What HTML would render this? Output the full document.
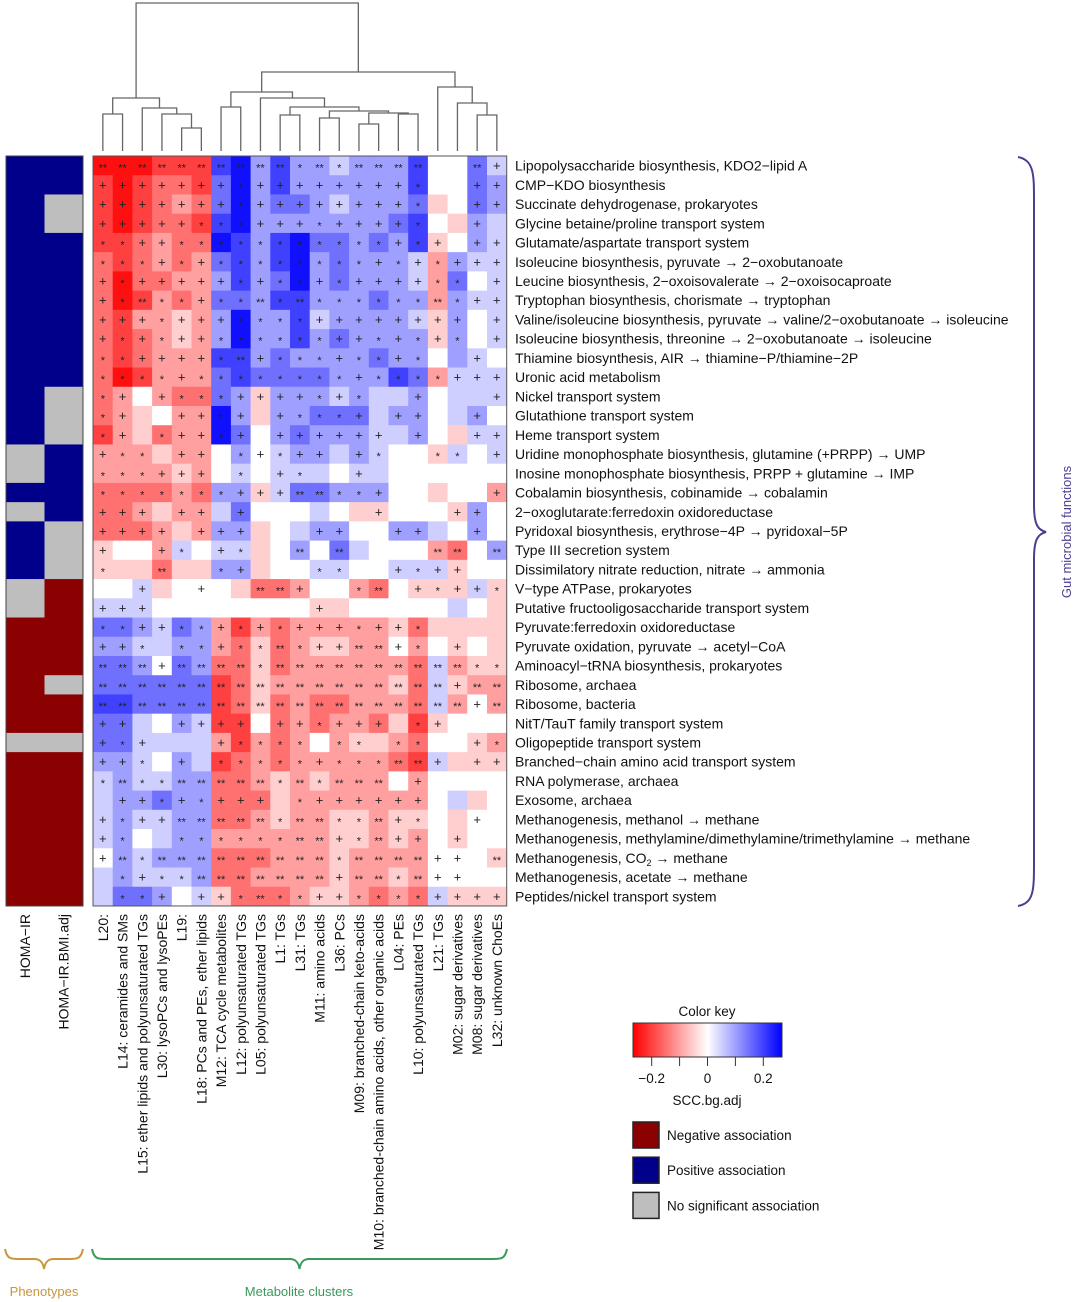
<!DOCTYPE html>
<html><head><meta charset="utf-8">
<style>
html,body{margin:0;padding:0;background:#fff;}
svg{display:block;font-family:"Liberation Sans",Arial,sans-serif;}
</style></head>
<body>
<svg id="chart" width="1080" height="1302" viewBox="0 0 1080 1302" xmlns="http://www.w3.org/2000/svg"></svg>
<script>
// ---- data ----
const columns = ["L20:","L14: ceramides and SMs","L15: ether lipids and polyunsaturated TGs","L30: lysoPCs and lysoPEs","L19:","L18: PCs and PEs, ether lipids","M12: TCA cycle metabolites","L12: polyunsaturated TGs","L05: polyunsaturated TGs","L1: TGs","L31: TGs","M11: amino acids","L36: PCs","M09: branched-chain keto-acids","M10: branched-chain amino acids, other organic acids","L04: PEs","L10: polyunsaturated TGs","L21: TGs","M02: sugar derivatives","M08: sugar derivatives","L32: unknown ChoEs"];
const rows = ["Lipopolysaccharide biosynthesis, KDO2\u2212lipid A","CMP\u2212KDO biosynthesis","Succinate dehydrogenase, prokaryotes","Glycine betaine/proline transport system","Glutamate/aspartate transport system","Isoleucine biosynthesis, pyruvate \u2192 2\u2212oxobutanoate","Leucine biosynthesis, 2\u2212oxoisovalerate \u2192 2\u2212oxoisocaproate","Tryptophan biosynthesis, chorismate \u2192 tryptophan","Valine/isoleucine biosynthesis, pyruvate \u2192 valine/2\u2212oxobutanoate \u2192 isoleucine","Isoleucine biosynthesis, threonine \u2192 2\u2212oxobutanoate \u2192 isoleucine","Thiamine biosynthesis, AIR \u2192 thiamine\u2212P/thiamine\u22122P","Uronic acid metabolism","Nickel transport system","Glutathione transport system","Heme transport system","Uridine monophosphate biosynthesis, glutamine (+PRPP) \u2192 UMP","Inosine monophosphate biosynthesis, PRPP + glutamine \u2192 IMP","Cobalamin biosynthesis, cobinamide \u2192 cobalamin","2\u2212oxoglutarate:ferredoxin oxidoreductase","Pyridoxal biosynthesis, erythrose\u22124P \u2192 pyridoxal\u22125P","Type III secretion system","Dissimilatory nitrate reduction, nitrate \u2192 ammonia","V\u2212type ATPase, prokaryotes","Putative fructooligosaccharide transport system","Pyruvate:ferredoxin oxidoreductase","Pyruvate oxidation, pyruvate \u2192 acetyl\u2212CoA","Aminoacyl\u2212tRNA biosynthesis, prokaryotes","Ribosome, archaea","Ribosome, bacteria","NitT/TauT family transport system","Oligopeptide transport system","Branched\u2212chain amino acid transport system","RNA polymerase, archaea","Exosome, archaea","Methanogenesis, methanol \u2192 methane","Methanogenesis, methylamine/dimethylamine/trimethylamine \u2192 methane","Methanogenesis, CO2 \u2192 methane","Methanogenesis, acetate \u2192 methane","Peptides/nickel transport system"];
// SCC values in units of 0.05 (negative = red, positive = blue)
const values = [
[-5,-5,-5,-4,-4,-4, 4,5,2,4,2,2,1,2,2,2,4, 0,0,3,1],
[-4,-5,-4,-3,-3,-4, 3,5,2,4,2,2,2,2,2,2,4, 0,0,3,2],
[-4,-5,-4,-3,-2,-3, 3,5,2,3,3,2,1,2,2,2,3, -1,0,3,2],
[-4,-5,-4,-3,-3,-4, 4,5,2,2,2,2,2,2,2,3,4, 0,-1,2,1],
[-4,-4,-3,-2,-3,-3, 5,4,2,4,5,3,3,2,3,2,4, -1,0,2,1],
[-3,-4,-3,-2,-3,-2, 3,4,2,4,5,2,3,2,2,2,1, -2,2,1,1],
[-3,-5,-3,-3,-2,-2, 2,4,2,3,5,2,3,2,2,2,1, -2,3,0,1],
[-3,-5,-4,-2,-3,-2, 3,3,2,4,4,2,2,2,3,2,2, -2,2,1,1],
[-3,-4,-2,-2,-1,-2, 2,5,2,2,4,1,2,2,2,2,1, -1,2,0,1],
[-3,-4,-3,-2,-1,-2, 2,5,2,2,4,2,3,2,2,2,2, -1,2,0,1],
[-3,-4,-3,-2,-2,-2, 4,4,2,3,2,2,2,2,3,2,2, 0,2,1,0],
[-3,-5,-4,-2,-2,-2, 3,4,3,3,3,3,2,2,2,4,3, -2,1,1,1],
[-3,-2,0,-2,-3,-3, 3,2,-1,2,2,2,1,2,1,1,2, 0,1,1,1],
[-3,-2,-1,0,-2,-2, 5,2,-1,2,2,3,3,3,1,2,2, 0,1,2,0],
[-4,-2,-1,-3,-2,-2, 5,3,0,2,3,2,2,2,1,1,2, 0,-1,1,1],
[-2,-2,-2,-1,-2,-2, 0,2,0,1,2,2,1,2,1,0,0, -1,1,0,1],
[-2,-2,-2,-2,-1,-2, 0,1,0,1,1,1,0,1,1,0,0, 0,0,0,0],
[-3,-3,-3,-3,-2,-3, 2,2,-1,1,3,3,2,2,2,0,0, -1,0,0,-2],
[-3,-3,-2,-1,-2,-2, 1,3,0,0,0,1,0,-1,-1,0,0, 0,-1,2,0],
[-3,-3,-3,-2,-1,-2, 2,2,-1,0,1,2,2,0,0,2,2, 1,0,2,0],
[-1,0,0,-2,1,0, 1,1,-1,0,2,0,3,1,0,0,0, -2,-3,0,2],
[-1,-1,-1,-3,-1,-1, 2,2,-1,0,0,1,1,0,0,1,1, 1,-1,0,0],
[0,0,1,-1,0,0, 0,-1,-3,-3,-2,0,0,-2,-3,0,-1, -1,-1,1,-1],
[1,1,1,0,0,0, 0,0,0,0,0,-1,-1,0,0,0,0, 0,1,0,-1],
[3,3,2,1,3,2, -2,-4,-2,-3,-2,-2,-2,-2,-2,-1,-3, -1,-1,-1,-1],
[2,2,1,1,2,2, -2,-3,-1,-3,-2,-1,-1,-2,-2,0,-2, 0,-1,0,-1],
[3,3,2,0,3,2, -3,-3,-1,-3,-2,-2,-2,-2,-2,-2,-3, 1,-2,-1,-1],
[3,3,3,3,3,3, -4,-3,-1,-2,-2,-2,-2,-2,-2,-1,-3, 1,-1,-2,-2],
[4,4,3,3,3,3, -4,-3,-1,-3,-2,-3,-3,-2,-2,-2,-3, 1,-2,0,-2],
[3,3,1,0,2,1, -4,-4,0,-3,-2,-3,-2,-2,-3,-1,-4, -1,0,0,0],
[3,3,1,1,1,1, -2,-4,-2,-3,-2,0,-2,-1,-1,-2,-3, 0,0,-1,-2],
[2,2,1,0,2,1, -4,-3,-2,-3,-2,-2,-2,-2,-2,-3,-4, 1,-1,-1,-1],
[1,2,1,1,2,2, -3,-3,-2,-1,-2,-1,-2,-2,-2,0,-2, 0,0,0,0],
[1,2,2,3,2,2, -3,-3,-3,-1,-2,-2,-2,-2,-2,-2,-2, 0,1,-1,0],
[1,2,1,1,2,2, -3,-3,-2,-1,-2,-2,-1,-1,-2,-1,-1, 0,-1,0,0],
[1,2,0,1,2,2, -2,-2,-2,-2,-2,-2,-1,-1,-2,-1,-2, 0,-1,0,0],
[0,2,1,2,2,2, -3,-3,-3,-2,-2,-2,-1,-2,-2,-2,-2, 0,0,0,-1],
[1,2,1,1,1,2, -3,-3,-2,-2,-2,-2,-1,-2,-2,-1,-2, 0,0,0,0],
[1,3,3,2,0,1, -1,-3,-3,-3,-2,-1,-1,-2,-3,-2,-3, 1,-1,-1,-1]
];
// significance marks: 2 = **, * = *, + = +, . = none
const marks = [
"222222"+"2222*2*2222"+"..2+",
"++++++"+"+*++++++++*"+"..++",
"++++++"+"+*++++++++*"+"..++",
"+++++*"+"**+++*++++*"+"..+.",
"**++**"+"*********+*"+"+.++",
"***+*+"+"********+*+"+"*+++",
"+*++++"+"+*+**+*++++"+"**.+",
"+*2**+"+"**2*2******"+"2*++",
"+++*++"+"+****++++++"+"++.+",
"+*+*++"+"******++*+*"+"+*.+",
"**++++"+"*2+***+**+*"+"..+.",
"****+*"+"*******+***"+"*+++",
"*+.+**"+"*++++*+*..+"+"...+",
"*+..++"+"*+.+***+.++"+"..+.",
"*+.*++"+"*+.++++++.+"+"..++",
"+**.++"+".*+*++.+*.."+"**.+",
"***+++"+".*.+*..+..."+"....",
"******"+"*+++22**+.."+"...+",
"+++.++"+".+......+.."+".++.",
"++++.+"+"++...++..++"+"..+.",
"+..+*."+"+*..2.2...."+"22.2",
"*..2.."+"*+...**..+*"+"++..",
"..+..+"+"..22+..*2.+"+"*++*",
"+++..."+".....+....."+"....",
"**++**"+"+*+*+++*++*"+"....",
"++*.**"+"+**2*++22+*"+".+..",
"222+22"+"22*22222222"+"22**",
"222222"+"22222222222"+"2+22",
"222222"+"22222222222"+"22+2",
"++..++"+"++.++*+++.*"+"+...",
"+*+..."+"+****.**.**"+"..+*",
"++*.+."+"*****+***22"+"+.++",
"*2**22"+"222*2*222.+"+"....",
".++*+*"+"+++.*++++++"+"....",
"+*++22"+"222*22**2+*"+"..+.",
"+*..**"+"****22+*2++"+".+..",
"+2*222"+"222222*2222"+"++.2",
".*+**2"+"222222+22*2"+"++..",
".**+.+"+"+*2**++****"+"++++"
];
// phenotype association: N = negative, P = positive, G = none
const homaIR    = "PPPPPPPPPPPPPPPGGPGPPPGGNNNNNNGNNNNNNNN";
const homaIRbmi = "PPGGPPPPPPPPGGGPPPPGGGNNNNNGNNGNNNNNNNN";
// dendrogram merges: [leftNode, rightNode, height]; leaves 0..20, new nodes 21..
const merges = [
[0,1,114],[4,5,128],[3,22,114],[2,23,108],[21,24,98],
[6,7,107],[9,10,115],[11,12,118],[13,14,124],[15,16,114],[29,30,113],[28,31,111],[27,32,107],[8,33,98],[26,34,92],
[19,20,115],[18,36,103],[17,37,87],[35,38,72],[25,39,3]
];
const keyTicks = [-0.2,-0.1,0,0.1,0.2];
const keyTickLabels = ["\u22120.2","","0","","0.2"];
const legendLabels = ["Negative association","Positive association","No significant association"];
const legendColors = ["#8b0000","#00008b","#bebebe"];

// ---- layout ----
const NS="http://www.w3.org/2000/svg";
const svg=document.getElementById('chart');
const X0=93, CW=19.7, Y0=156, RH=19.23, VMAX=0.267;
const nC=columns.length, nR=rows.length;
function xCol(i){return X0+i*CW;}
function yRow(j){return Y0+j*RH;}
function el(tag,attrs,parent){const e=document.createElementNS(NS,tag);for(const k in attrs)e.setAttribute(k,attrs[k]);(parent||svg).appendChild(e);return e;}
function color(v){let t=Math.max(-1,Math.min(1,v*0.05/VMAX));let r,g,b;
 if(t<0){r=255;g=b=Math.round(255*(1+t));}else{b=255;r=g=Math.round(255*(1-t));}
 return `rgb(${r},${g},${b})`;}

// heatmap cells
const hm=el('g',{});


for(let j=0;j<nR;j++){for(let i=0;i<nC;i++){
 const r=el('rect',{x:xCol(i),y:yRow(j),width:CW+0.4,height:RH+0.4,fill:color(values[j][i])},hm);
 
 
 const m=marks[j][i];
 if(m!=='.'){
  const s=m==='2'?'**':(m==='*'?'*':'+');
  const t=el('text',{x:xCol(i)+CW/2,y:yRow(j)+RH/2+(m==='+'?4.5:6),'text-anchor':'middle','font-size':m==='+'?13:11,fill:'#222'},hm);
  t.textContent=s;
  
  
 }
}}
const border=el('rect',{x:X0,y:Y0,width:nC*CW,height:nR*RH,fill:'none',stroke:'#555','stroke-width':1});



// phenotype bars
const pcol={N:'#8b0000',P:'#00008b',G:'#bebebe'};
const ph=el('g',{});


[homaIR,homaIRbmi].forEach((str,k)=>{for(let j=0;j<nR;j++){
 const r=el('rect',{x:6+k*38.5,y:yRow(j),width:38.8,height:RH+0.4,fill:pcol[str[j]]},ph);
 
 
}});
const pb=el('rect',{x:6,y:Y0,width:77,height:nR*RH,fill:'none',stroke:'#444','stroke-width':1});



// row labels
for(let j=0;j<nR;j++){
 const t=el('text',{x:515,y:yRow(j)+RH/2+5,'font-size':14,fill:'#111'});
 const lab=rows[j];
 if(lab.indexOf('CO2')>=0){
  const parts=lab.split('CO2');
  t.appendChild(document.createTextNode(parts[0]+'CO'));
  const sub=el('tspan',{'font-size':9,dy:3},t);sub.textContent='2';
  const rest=el('tspan',{dy:-3},t);rest.textContent=parts[1];
 } else t.textContent=lab;
 
 
}
// column labels
for(let i=0;i<nC;i++){
 const cx=xCol(i)+CW/2+5;
 const t=el('text',{x:cx,y:914,'font-size':14,fill:'#111','text-anchor':'end',transform:`rotate(-90 ${cx} 914)`});
 t.textContent=columns[i];
 
 
}
['HOMA\u2212IR','HOMA\u2212IR.BMI.adj'].forEach((s,k)=>{
 const cx=25+k*38.5+5;
 const t=el('text',{x:cx,y:914,'font-size':14,fill:'#111','text-anchor':'end',transform:`rotate(-90 ${cx} 914)`});
 t.textContent=s;
 
 
});

// dendrogram
const dg=el('g',{stroke:'#666','stroke-width':1.3,fill:'none'});


const nodeX=[],nodeY=[];
for(let i=0;i<nC;i++){nodeX.push(xCol(i)+CW/2);nodeY.push(151);}
merges.forEach(m=>{
 const [a,b,h]=m;
 const p=el('path',{d:`M${nodeX[a]},${nodeY[a]}V${h}H${nodeX[b]}V${nodeY[b]}`},dg);
 
 
 nodeX.push((nodeX[a]+nodeX[b])/2);nodeY.push(h);
});

// right brace
const rb=el('path',{d:'M1018,157 C1034,160 1034,175 1034,200 L1034,505 C1034,525 1038,530 1046,532 C1038,534 1034,539 1034,559 L1034,862 C1034,890 1034,903 1018,906',fill:'none',stroke:'#4a3f8f','stroke-width':2});


const rbt=el('text',{x:1071,y:532,'font-size':13,fill:'#4a3f8f','text-anchor':'middle',transform:'rotate(-90 1071 532)'});
rbt.textContent='Gut microbial functions';



// bottom braces
function hbrace(x1,x2,y,col,name){
 const m=(x1+x2)/2;
 const p=el('path',{d:`M${x1},${y} C${x1+2},${y+10} ${x1+6},${y+10} ${x1+14},${y+10} L${m-10},${y+10} C${m-4},${y+10} ${m-1},${y+13} ${m},${y+20} C${m+1},${y+13} ${m+4},${y+10} ${m+10},${y+10} L${x2-14},${y+10} C${x2-6},${y+10} ${x2-2},${y+10} ${x2},${y}`,fill:'none',stroke:col,'stroke-width':2});
 
 
}
hbrace(5,83,1249,'#c8963c','phenotypes-brace');
hbrace(92,507,1249,'#3a9a5c','metabolite-clusters-brace');
const pt=el('text',{x:44,y:1296,'font-size':13,fill:'#c8963c','text-anchor':'middle'});
pt.textContent='Phenotypes';


const mt=el('text',{x:299,y:1296,'font-size':13,fill:'#3a9a5c','text-anchor':'middle'});
mt.textContent='Metabolite clusters';



// color key
const defs=el('defs',{});
const lg=el('linearGradient',{id:'ck',x1:0,x2:1,y1:0,y2:0},defs);
el('stop',{offset:'0',['stop-color']:'#ff0000'},lg);
el('stop',{offset:'0.5',['stop-color']:'#ffffff'},lg);
el('stop',{offset:'1',['stop-color']:'#0000ff'},lg);
const KX=633,KW=149,KY=1023,KH=34;
function keyX(v){return KX+(v+VMAX)/(2*VMAX)*KW;}
const ck=el('rect',{x:KX,y:KY,width:KW,height:KH,fill:'url(#ck)',stroke:'#333','stroke-width':1});


const ckt=el('text',{x:707,y:1016,'font-size':13.5,fill:'#111','text-anchor':'middle'});
ckt.textContent='Color key';


keyTicks.forEach((v,k)=>{
 const ln=el('line',{x1:keyX(v),x2:keyX(v),y1:KY+KH,y2:KY+KH+9,stroke:'#333'});
 
 
 if(keyTickLabels[k]){
  const t=el('text',{x:keyX(v),y:1083,'font-size':13.5,fill:'#111','text-anchor':'middle'});
  t.textContent=keyTickLabels[k];
  
  
 }
});
const cka=el('text',{x:707,y:1105,'font-size':13.5,fill:'#111','text-anchor':'middle'});
cka.textContent='SCC.bg.adj';


legendLabels.forEach((s,k)=>{
 const y=1122+k*35.2;
 const r=el('rect',{x:633,y:y,width:26,height:26,fill:legendColors[k],stroke:'#222','stroke-width':1.5});
 
 
 const t=el('text',{x:667,y:y+18,'font-size':13.5,fill:'#111'});
 t.textContent=s;
 
 
});
</script>
</body></html>
